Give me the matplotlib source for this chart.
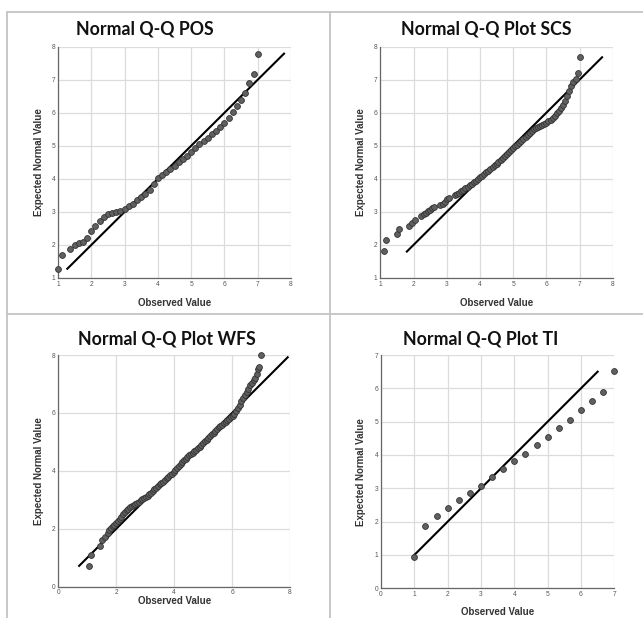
import numpy as np
import matplotlib.pyplot as plt
from matplotlib.lines import Line2D

plt.rcParams['font.family'] = ['Liberation Sans', 'DejaVu Sans']

# observed / expected normal values per scale
pos_obs = [1.0, 1.125, 1.375, 1.5, 1.625, 1.75, 1.875, 2.0, 2.125, 2.25, 2.375, 2.5,
           2.625, 2.75, 2.875, 3.0, 3.125, 3.25, 3.375, 3.5, 3.625, 3.75, 3.875, 4.0,
           4.125, 4.25, 4.375, 4.5, 4.625, 4.75, 4.875, 5.0, 5.125, 5.25, 5.375, 5.5,
           5.625, 5.75, 5.875, 6.0, 6.125, 6.25, 6.375, 6.5, 6.625, 6.75, 6.875, 7.0]
pos_exp = [1.27, 1.69, 1.89, 2.0, 2.06, 2.1, 2.2, 2.43, 2.56, 2.72, 2.86, 2.93,
           2.96, 3.0, 3.04, 3.1, 3.17, 3.25, 3.35, 3.45, 3.55, 3.65, 3.85, 4.02,
           4.12, 4.2, 4.3, 4.4, 4.5, 4.6, 4.7, 4.82, 4.94, 5.05, 5.15, 5.25,
           5.35, 5.45, 5.57, 5.7, 5.85, 6.02, 6.22, 6.4, 6.6, 6.9, 7.18, 7.79]

scs_obs = [1.11, 1.17, 1.49, 1.56, 1.87, 1.94, 2.06, 2.24, 2.31, 2.38, 2.44, 2.5, 2.56,
           2.63, 2.81, 2.88, 2.94, 3.0, 3.06, 3.25, 3.31, 3.38, 3.44, 3.5, 3.56, 3.63,
           3.69, 3.75, 3.81, 3.88, 3.94, 4.0, 4.06, 4.13, 4.19, 4.25, 4.31, 4.38, 4.44,
           4.5, 4.56, 4.63, 4.69, 4.75, 4.81, 4.88, 4.94, 5.0, 5.06, 5.13, 5.19, 5.25,
           5.31, 5.38, 5.44, 5.5, 5.56, 5.63, 5.69, 5.75, 5.81, 5.88, 5.94, 6.0, 6.06,
           6.13, 6.19, 6.25, 6.31, 6.38, 6.44, 6.5, 6.56, 6.63, 6.69, 6.75, 6.81, 6.88,
           6.94, 7.0]
scs_exp = [1.81, 2.15, 2.33, 2.47, 2.57, 2.66, 2.75, 2.87, 2.93, 2.98, 3.03, 3.07, 3.11,
           3.15, 3.2, 3.25, 3.3, 3.38, 3.42, 3.5, 3.54, 3.58, 3.62, 3.66, 3.71, 3.76,
           3.8, 3.85, 3.9, 3.95, 4.0, 4.05, 4.1, 4.15, 4.2, 4.25, 4.3, 4.36, 4.41,
           4.46, 4.52, 4.57, 4.63, 4.68, 4.74, 4.8, 4.86, 4.92, 4.98, 5.04, 5.1, 5.16,
           5.22, 5.28, 5.33, 5.39, 5.46, 5.5, 5.53, 5.56, 5.59, 5.62, 5.66, 5.7, 5.74,
           5.79, 5.85, 5.91, 5.98, 6.06, 6.15, 6.25, 6.36, 6.5, 6.65, 6.8, 6.92, 7.03,
           7.19, 7.68]

wfs_obs = [1.05, 1.12, 1.45, 1.52, 1.6, 1.7, 1.76, 1.82, 1.88, 1.94, 2.0, 2.06, 2.12,
           2.18, 2.24, 2.3, 2.36, 2.42, 2.48, 2.54, 2.6, 2.66, 2.72, 2.78, 2.84, 2.9,
           2.96, 3.02, 3.08, 3.14, 3.2, 3.26, 3.32, 3.38, 3.44, 3.5, 3.56, 3.62, 3.68,
           3.74, 3.8, 3.86, 3.92, 3.98, 4.04, 4.1, 4.16, 4.22, 4.28, 4.34, 4.4, 4.46,
           4.52, 4.58, 4.64, 4.7, 4.76, 4.82, 4.88, 4.94, 5.0, 5.06, 5.12, 5.18, 5.24,
           5.3, 5.36, 5.42, 5.48, 5.54, 5.6, 5.66, 5.72, 5.78, 5.84, 5.9, 5.96, 6.02,
           6.08, 6.14, 6.2, 6.26, 6.32, 6.38, 6.44, 6.5, 6.56, 6.62, 6.68, 6.74, 6.8,
           6.86, 6.9, 6.94, 7.0]
wfs_exp = [0.73, 1.1, 1.4, 1.6, 1.72, 1.85, 1.95, 2.02, 2.08, 2.14, 2.2, 2.27, 2.34,
           2.42, 2.5, 2.58, 2.64, 2.7, 2.74, 2.78, 2.82, 2.86, 2.9, 2.94, 2.98, 3.02,
           3.06, 3.1, 3.14, 3.2, 3.25, 3.3, 3.36, 3.42, 3.48, 3.53, 3.58, 3.63, 3.7,
           3.75, 3.8, 3.85, 3.9, 3.95, 4.02, 4.1, 4.17, 4.24, 4.3, 4.36, 4.42, 4.48,
           4.53, 4.58, 4.63, 4.68, 4.73, 4.78, 4.84, 4.9, 4.96, 5.02, 5.08, 5.14, 5.2,
           5.26, 5.32, 5.38, 5.44, 5.5, 5.55, 5.6, 5.65, 5.7, 5.75, 5.8, 5.86, 5.9,
           5.98, 6.07, 6.17, 6.27, 6.4, 6.5, 6.62, 6.73, 6.84, 6.96, 7.05, 7.13, 7.22,
           7.35, 7.52, 7.6, 8.0]

ti_obs = [1.0, 1.33, 1.67, 2.0, 2.33, 2.67, 3.0, 3.33, 3.67, 4.0, 4.33, 4.67,
          5.0, 5.33, 5.67, 6.0, 6.33, 6.67, 7.0]
ti_exp = [0.95, 1.88, 2.18, 2.42, 2.64, 2.86, 3.08, 3.35, 3.59, 3.82, 4.03, 4.29,
          4.55, 4.8, 5.05, 5.34, 5.61, 5.9, 6.52]

titles = ['Normal Q-Q POS', 'Normal Q-Q Plot SCS', 'Normal Q-Q Plot WFS', 'Normal Q-Q Plot TI']
ref_lines = [(1.28, 7.79), (1.8, 7.68), (0.72, 7.92), (0.97, 6.5)]
limits = [(1, 8), (1, 8), (0, 8), (0, 7)]
tick_step = [1, 1, 2, 1]

W, H = 643, 618
fig = plt.figure(figsize=(W / 100, H / 100), dpi=100)

# axes boxes in pixels: left, top, right, bottom
boxes = [(58, 46.7, 291, 278), (380.3, 46.7, 612.7, 278),
         (58.3, 355, 290, 586.7), (381, 355, 614.3, 588.3)]
title_pos = [(145, 29), (486, 29), (167, 339), (481, 339)]
xlabel_y = [303, 303, 601, 612]

data = [(pos_obs, pos_exp), (scs_obs, scs_exp), (wfs_obs, wfs_exp), (ti_obs, ti_exp)]

for i in range(4):
    l, t, r, b = boxes[i]
    ax = fig.add_axes([l / W, 1 - b / H, (r - l) / W, (b - t) / H])
    lo, hi = limits[i]
    ax.set_xlim(lo, hi)
    ax.set_ylim(lo, hi)
    ticks = np.arange(lo, hi + 0.01, tick_step[i])
    ax.set_xticks(ticks)
    ax.set_yticks(ticks)
    ax.set_xticklabels([str(int(v)) for v in ticks])
    ax.set_yticklabels([str(int(v)) for v in ticks])
    ax.tick_params(length=0, labelsize=4.8, labelcolor='#555555', pad=2)
    ax.grid(True, color='#dcdcdc', linewidth=0.9)
    ax.set_axisbelow(True)
    for s in ['top', 'right']:
        ax.spines[s].set_visible(False)
    for s in ['left', 'bottom']:
        ax.spines[s].set_color('#666666')
        ax.spines[s].set_linewidth(0.9)

    a, z = ref_lines[i]
    ax.plot([a, z], [a, z], color='black', linewidth=1.5, zorder=3)
    x, y = data[i]
    ax.plot(x, y, 'o', color='#606060', markeredgecolor='#333333', markeredgewidth=0.6,
            markersize=4.2, clip_on=False, zorder=4)

    cx = (l + r) / 2
    fig.text(cx / W, 1 - xlabel_y[i] / H, 'Observed Value', ha='center', va='center',
             fontsize=7, fontweight='bold', color='#333333')
    fig.text(39 / W if i % 2 == 0 else (39 + 322) / W, 1 - ((t + b) / 2) / H,
             'Expected Normal Value', ha='center', va='center', rotation=90,
             fontsize=7, fontweight='bold', color='#333333')
    tx, ty = title_pos[i]
    fig.text(tx / W, 1 - ty / H, titles[i], ha='center', va='center',
             fontsize=12.8, fontweight='bold', family='Lato', color='#111111')

# panel frame lines
frame = dict(color='#c4c4c4', linewidth=1.3, transform=fig.transFigure)
fig.add_artist(Line2D([6.7 / W, 1], [1 - 11.7 / H, 1 - 11.7 / H], **frame))
fig.add_artist(Line2D([6.7 / W, 6.7 / W], [0, 1 - 11.7 / H], **frame))
fig.add_artist(Line2D([330 / W, 330 / W], [0, 1 - 11.7 / H], **frame))
fig.add_artist(Line2D([6.7 / W, 1], [1 - 314 / H, 1 - 314 / H], **frame))

fig.savefig('out.png', dpi=100)
